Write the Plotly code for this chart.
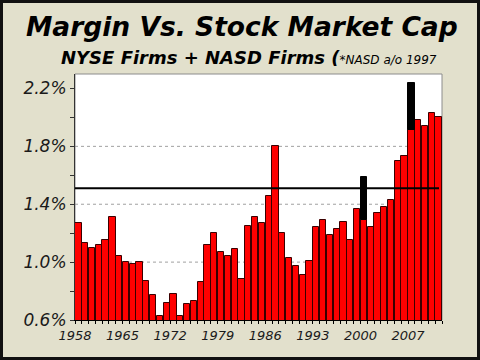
import plotly.graph_objects as go

years = list(range(1958, 2012))
margin_pct = [1.27, 1.13, 1.10, 1.12, 1.15, 1.31, 1.04, 1.00, 0.99, 1.00,
              0.87, 0.77, 0.63, 0.72, 0.78, 0.63, 0.71, 0.73, 0.86, 1.12,
              1.20, 1.07, 1.04, 1.09, 0.88, 1.25, 1.31, 1.27, 1.46, 1.80,
              1.20, 1.03, 0.97, 0.91, 1.01, 1.24, 1.29, 1.19, 1.23, 1.28,
              1.15, 1.37, 1.29, 1.24, 1.34, 1.38, 1.43, 1.70, 1.73, 1.91,
              1.98, 1.94, 2.03, 2.00]
peak_years = [2000, 2007]
peak_values = [1.59, 2.24]
avg_line = 1.51
ytick_vals = [0.6, 0.8, 1.0, 1.2, 1.4, 1.6, 1.8, 2.0, 2.2]
ytick_labels = ["0.6%", "", "1.0%", "", "1.4%", "", "1.8%", "", "2.2%"]
grid_vals = [1.0, 1.4, 1.8]
xtick_vals = list(range(1958, 2013))
xtick_labels = [str(y) if (y - 1958) % 7 == 0 and y <= 2007 else "" for y in xtick_vals]

FONT = "DejaVu Sans"
W, H = 480, 360
ML, MR, MT, MB = 75, 38, 74, 40
PW, PH = W - ML - MR, H - MT - MB

def px(x):
    return (x - ML) / PW

def py(y):
    return (H - MB - y) / PH

base_lookup = dict(zip(years, margin_pct))
peak_base = [base_lookup[y] for y in peak_years]
peak_len = [v - b for v, b in zip(peak_values, peak_base)]

fig = go.Figure()
fig.add_trace(go.Bar(
    x=[y + 0.5 for y in years], y=margin_pct,
    width=0.92, marker=dict(color="#FF0000", line=dict(color="#3a0000", width=1)),
    hoverinfo="x+y", showlegend=False))
fig.add_trace(go.Bar(
    x=[y + 0.5 for y in peak_years], y=peak_len, base=peak_base,
    width=0.92, marker=dict(color="#000000", line=dict(color="#000000", width=1)),
    showlegend=False))

shapes = []
for g in grid_vals:
    shapes.append(dict(type="line", xref="paper", yref="y", x0=0, x1=1, y0=g, y1=g,
                       line=dict(color="#a0a0a0", width=1, dash="dot"), layer="below"))
shapes.append(dict(type="rect", xref="paper", yref="paper", x0=0, x1=1, y0=0, y1=1,
                   line=dict(color="#8c8c8c", width=1), layer="below"))
shapes.append(dict(type="line", xref="paper", yref="y", x0=0, x1=px(439), y0=avg_line, y1=avg_line,
                   line=dict(color="#000000", width=2), layer="above"))
shapes.append(dict(type="rect", xref="paper", yref="paper",
                   x0=px(0), x1=px(W), y0=py(H), y1=py(0),
                   line=dict(color="#111111", width=6), layer="above"))

fig.update_layout(
    width=W, height=H,
    margin=dict(l=ML, r=MR, t=MT, b=MB, pad=0),
    paper_bgcolor="#E2E0CC", plot_bgcolor="#FFFFFF",
    barmode="overlay", bargap=0,
    shapes=shapes,
    font=dict(family=FONT, color="#1a1a1a"),
    xaxis=dict(range=[1958, 2012], tickmode="array", tickvals=xtick_vals, ticktext=xtick_labels,
               ticks="outside", ticklen=3, tickcolor="#000", showgrid=False, zeroline=False,
               showline=True, linecolor="#000", linewidth=1,
               tickfont=dict(size=13, style="italic", color="#1a1a1a", family=FONT)),
    yaxis=dict(range=[0.6, 2.3], tickmode="array", tickvals=ytick_vals, ticktext=ytick_labels,
               ticks="outside", ticklen=4, tickcolor="#333", showgrid=False, zeroline=False,
               showline=True, linecolor="#333", linewidth=1,
               tickfont=dict(size=17, style="italic", color="#1a1a1a", family=FONT)),
    annotations=[
        dict(text="<b><i>Margin Vs. Stock Market Cap</i></b>", xref="paper", yref="paper",
             x=px(241.5), y=py(26), xanchor="center", yanchor="middle", showarrow=False,
             font=dict(size=26.5, color="#000", family=FONT)),
        dict(text="<b><i>NYSE Firms + NASD Firms (</i></b><span style='font-size:12px'><i>*NASD a/o 1997</i></span>",
             xref="paper", yref="paper",
             x=px(249), y=py(57), xanchor="center", yanchor="middle", showarrow=False,
             font=dict(size=18, color="#000", family=FONT)),
    ],
)

fig.write_html("out.html", config={"displayModeBar": False},
               post_script="document.body.style.margin='0';document.body.style.overflow='hidden';")
